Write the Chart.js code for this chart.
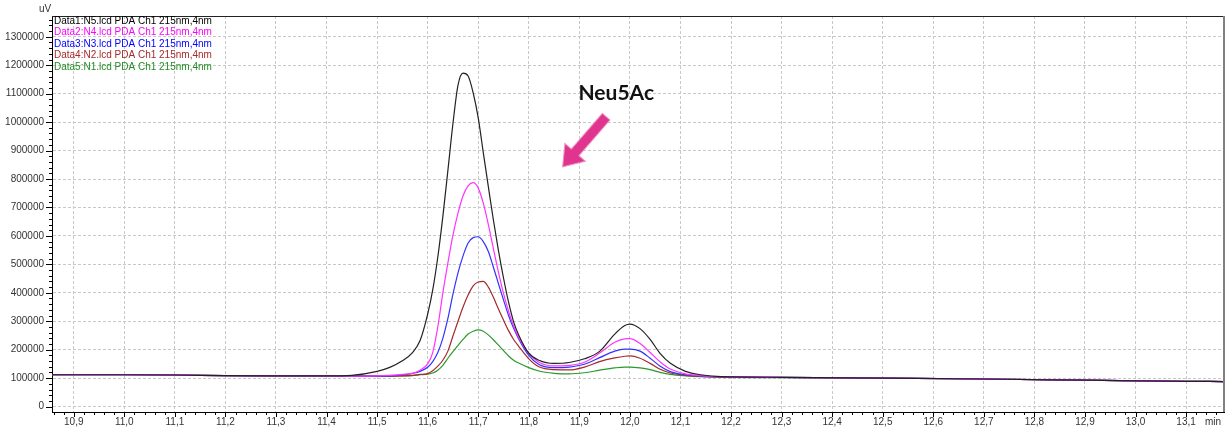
<!DOCTYPE html>
<html>
<head>
<meta charset="utf-8">
<script src="https://cdn.jsdelivr.net/npm/chart.js@4.4.0/dist/chart.umd.min.js"></script>
<style>
  html, body { margin: 0; padding: 0; background: #fff; }
  #wrap { width: 1231px; height: 433px; position: relative; }
</style>
</head>
<body>
<div id="wrap"><canvas id="pdaChart"></canvas></div>
<script>
// retention time (min)
const retentionTimes = [10.857, 11.0, 11.1, 11.2, 11.3, 11.4, 11.45, 11.5, 11.525, 11.55, 11.57, 11.585,
    11.6, 11.61, 11.62, 11.63, 11.64, 11.65, 11.66, 11.67, 11.68, 11.69, 11.7, 11.71, 11.72, 11.73, 11.74,
    11.75, 11.76, 11.77, 11.78, 11.8, 11.82, 11.85, 11.88, 11.91, 11.94, 11.97, 11.99, 12.0, 12.02, 12.04,
    12.06, 12.08, 12.11, 12.14, 12.18, 12.3, 12.5, 12.7, 12.9, 13.1, 13.175];

// signal (uV)
const n5Values = [112000, 112000, 111000, 109000, 108000, 108000, 110000, 124000, 138000, 161000, 190000, 232000,
    325000, 410000, 525000, 668000, 830000, 995000, 1130000, 1172000, 1162000, 1103000, 1015000, 893000, 773000, 656000, 548000,
    452000, 367000, 298000, 252000, 188000, 163000, 152000, 155000, 168000, 194000, 255000, 285000, 290000, 274000, 236000,
    186000, 152000, 124000, 112000, 105000, 103000, 100000, 97000, 93000, 89000, 88000];
const n4Values = [112000, 112000, 111000, 109000, 108000, 107000, 107000, 108000, 110000, 113000, 117000, 128000,
    150000, 190000, 280000, 399000, 505000, 603000, 680000, 741000, 776000, 787000, 768000, 715000, 640000, 555000, 472000,
    398000, 335000, 283000, 242000, 188000, 156000, 143000, 145000, 156000, 188000, 226000, 238000, 239000, 222000, 190000,
    157000, 132000, 115000, 109000, 105000, 103000, 100000, 97000, 93000, 89000, 88000];
const n3Values = [112000, 112000, 111000, 109000, 108000, 107000, 107000, 107000, 108000, 112000, 117000, 124000,
    138000, 158000, 190000, 240000, 310000, 395000, 470000, 530000, 575000, 594000, 597000, 580000, 545000, 490000, 432000,
    375000, 320000, 275000, 238000, 180000, 148000, 137000, 139000, 149000, 172000, 195000, 202000, 202000, 195000, 170000,
    142000, 123000, 112000, 107000, 105000, 103000, 100000, 97000, 93000, 89000, 88000];
const n2Values = [112000, 112000, 111000, 109000, 108000, 107000, 107000, 107000, 107000, 108000, 110000, 113000,
    116000, 126000, 142000, 163000, 195000, 248000, 300000, 350000, 392000, 424000, 438000, 440000, 420000, 384000, 343000,
    304000, 267000, 236000, 212000, 168000, 140000, 130000, 129000, 139000, 158000, 171000, 177000, 178000, 170000, 152000,
    131000, 118000, 110000, 106000, 104000, 103000, 100000, 97000, 93000, 89000, 88000];
const n1Values = [112000, 112000, 111000, 109000, 108000, 107000, 107000, 107000, 107000, 108000, 109000, 112000,
    114000, 118000, 128000, 145000, 170000, 193000, 215000, 236000, 255000, 265000, 270000, 265000, 252000, 235000, 216000,
    197000, 178000, 163000, 153000, 137000, 125000, 117000, 115000, 119000, 128000, 136000, 139000, 139000, 136000, 130000,
    120000, 113000, 108000, 105000, 103000, 102000, 100000, 97000, 93000, 89000, 88000];

const seriesLabels = ['Data1:N5.lcd PDA Ch1 215nm,4nm', 'Data2:N4.lcd PDA Ch1 215nm,4nm', 'Data3:N3.lcd PDA Ch1 215nm,4nm',
    'Data4:N2.lcd PDA Ch1 215nm,4nm', 'Data5:N1.lcd PDA Ch1 215nm,4nm'];
const seriesColors = ['#222222', '#ff33ff', '#3333ff', '#a52a2a', '#2a9a2a'];
const legendColors = ['#000000', '#ff00ff', '#0000ff', '#a52a2a', '#228b22'];

// axis ticks
const xTickValues = [10.9, 11.0, 11.1, 11.2, 11.3, 11.4, 11.5, 11.6, 11.7, 11.8, 11.9, 12.0,
    12.1, 12.2, 12.3, 12.4, 12.5, 12.6, 12.7, 12.8, 12.9, 13.0, 13.1];
const yTickValues = [0, 100000, 200000, 300000, 400000, 500000, 600000, 700000, 800000,
    900000, 1000000, 1100000, 1200000, 1300000];

const xMin = 10.857, xMax = 13.175;
const yMin = -19000, yMax = 1373000;

// annotation anchors, in data units
const noteText = 'Neu5Ac';
const notePos = { x: 11.973, y: 1102000 };
const arrowTail = { x: 11.953, y: 1019000 };
const arrowTip = { x: 11.867, y: 843000 };

const TICK_FONT = { family: "'Liberation Sans', Arial, sans-serif", size: 10 };

const allSeries = [n5Values, n4Values, n3Values, n2Values, n1Values];

const chromDecor = {
    id: 'chromDecor',
    afterDraw(chart) {
        const ctx = chart.ctx;
        const area = chart.chartArea;
        const xs = chart.scales.x;
        const ys = chart.scales.y;
        ctx.save();

        // tick marks, major + minor
        ctx.strokeStyle = '#000';
        ctx.lineWidth = 1;
        ctx.beginPath();
        for (let v = 0; v <= yMax; v += 20000) {
            const py = Math.round(ys.getPixelForValue(v)) + 0.5;
            const len = v % 100000 === 0 ? 6 : 3;
            ctx.moveTo(area.left - len, py);
            ctx.lineTo(area.left, py);
        }
        for (let k = Math.ceil(xMin * 50); k <= Math.floor(xMax * 50); k++) {
            const px = Math.round(xs.getPixelForValue(k / 50)) + 0.5;
            const len = k % 5 === 0 ? 5 : 3;
            ctx.moveTo(px, area.bottom);
            ctx.lineTo(px, area.bottom + len);
        }
        ctx.stroke();

        // frame top / right
        ctx.strokeStyle = '#222';
        ctx.beginPath();
        ctx.moveTo(area.left, area.top + 0.5);
        ctx.lineTo(area.right, area.top + 0.5);
        ctx.stroke();
        ctx.strokeStyle = '#808080';
        ctx.lineWidth = 2;
        ctx.beginPath();
        ctx.moveTo(area.right, area.top);
        ctx.lineTo(area.right, area.bottom);
        ctx.stroke();

        // unit labels
        ctx.font = "10px 'Liberation Sans', Arial, sans-serif";
        ctx.fillStyle = '#333';
        ctx.textBaseline = 'middle';
        ctx.textAlign = 'left';
        ctx.fillText('uV', area.left - 13, area.top - 7);
        ctx.textAlign = 'center';
        ctx.fillText('min', area.right - 11, area.bottom + 10);

        // legend text
        ctx.textAlign = 'left';
        seriesLabels.forEach((label, i) => {
            ctx.fillStyle = legendColors[i];
            ctx.fillText(label, area.left + 2, area.top + 5 + i * 11.5);
        });

        // Neu5Ac note + arrow
        ctx.font = "bold 21px Lato, 'Open Sans', sans-serif";
        ctx.fillStyle = '#111';
        ctx.textAlign = 'center';
        ctx.fillText(noteText, xs.getPixelForValue(notePos.x), ys.getPixelForValue(notePos.y));

        const tx = xs.getPixelForValue(arrowTail.x), ty = ys.getPixelForValue(arrowTail.y);
        const hx = xs.getPixelForValue(arrowTip.x), hy = ys.getPixelForValue(arrowTip.y);
        const ang = Math.atan2(hy - ty, hx - tx);
        const len = Math.hypot(hx - tx, hy - ty);
        const shaftW = 10, headW = 27, headL = 19;
        ctx.translate(tx, ty);
        ctx.rotate(ang);
        ctx.beginPath();
        ctx.moveTo(0, -shaftW / 2);
        ctx.lineTo(len - headL, -shaftW / 2);
        ctx.lineTo(len - headL, -headW / 2);
        ctx.lineTo(len, 0);
        ctx.lineTo(len - headL, headW / 2);
        ctx.lineTo(len - headL, shaftW / 2);
        ctx.lineTo(0, shaftW / 2);
        ctx.closePath();
        ctx.fillStyle = '#e0358f';
        ctx.fill();
        ctx.strokeStyle = '#f08cc0';
        ctx.lineWidth = 1;
        ctx.stroke();

        ctx.restore();
    }
};

const ctx = document.getElementById('pdaChart').getContext('2d');
new Chart(ctx, {
    type: 'line',
    data: {
        datasets: allSeries.map((vals, i) => ({
            label: seriesLabels[i],
            data: retentionTimes.map((t, j) => ({ x: t, y: vals[j] })),
            borderColor: seriesColors[i],
            borderWidth: 1.2,
            pointRadius: 0,
            fill: false,
            cubicInterpolationMode: 'monotone'
        }))
    },
    options: {
        responsive: true,
        maintainAspectRatio: false,
        animation: false,
        layout: { padding: { top: 16, right: 7, left: 0, bottom: 0 } },
        plugins: {
            legend: { display: false },
            tooltip: { enabled: false }
        },
        scales: {
            x: {
                type: 'linear',
                bounds: 'data',
                min: xMin,
                max: xMax,
                afterBuildTicks: s => { s.ticks = xTickValues.map(v => ({ value: v })); },
                afterFit: s => { s.height = 21; },
                grid: { color: '#c8c8c8', drawTicks: false },
                border: { display: true, color: '#000', width: 1, dash: [3, 2] },
                ticks: {
                    autoSkip: false,
                    maxRotation: 0,
                    padding: 4,
                    color: '#333',
                    font: TICK_FONT,
                    callback: v => v.toFixed(1).replace('.', ',')
                }
            },
            y: {
                type: 'linear',
                bounds: 'data',
                min: yMin,
                max: yMax,
                afterBuildTicks: s => { s.ticks = yTickValues.map(v => ({ value: v })); },
                afterFit: s => { s.width = 52; },
                grid: { color: '#c8c8c8', drawTicks: false },
                border: { display: true, color: '#000', width: 1, dash: [3, 2] },
                ticks: {
                    autoSkip: false,
                    padding: 8,
                    color: '#333',
                    font: TICK_FONT,
                    callback: v => String(v)
                }
            }
        }
    },
    plugins: [chromDecor]
});
</script>
</body>
</html>
